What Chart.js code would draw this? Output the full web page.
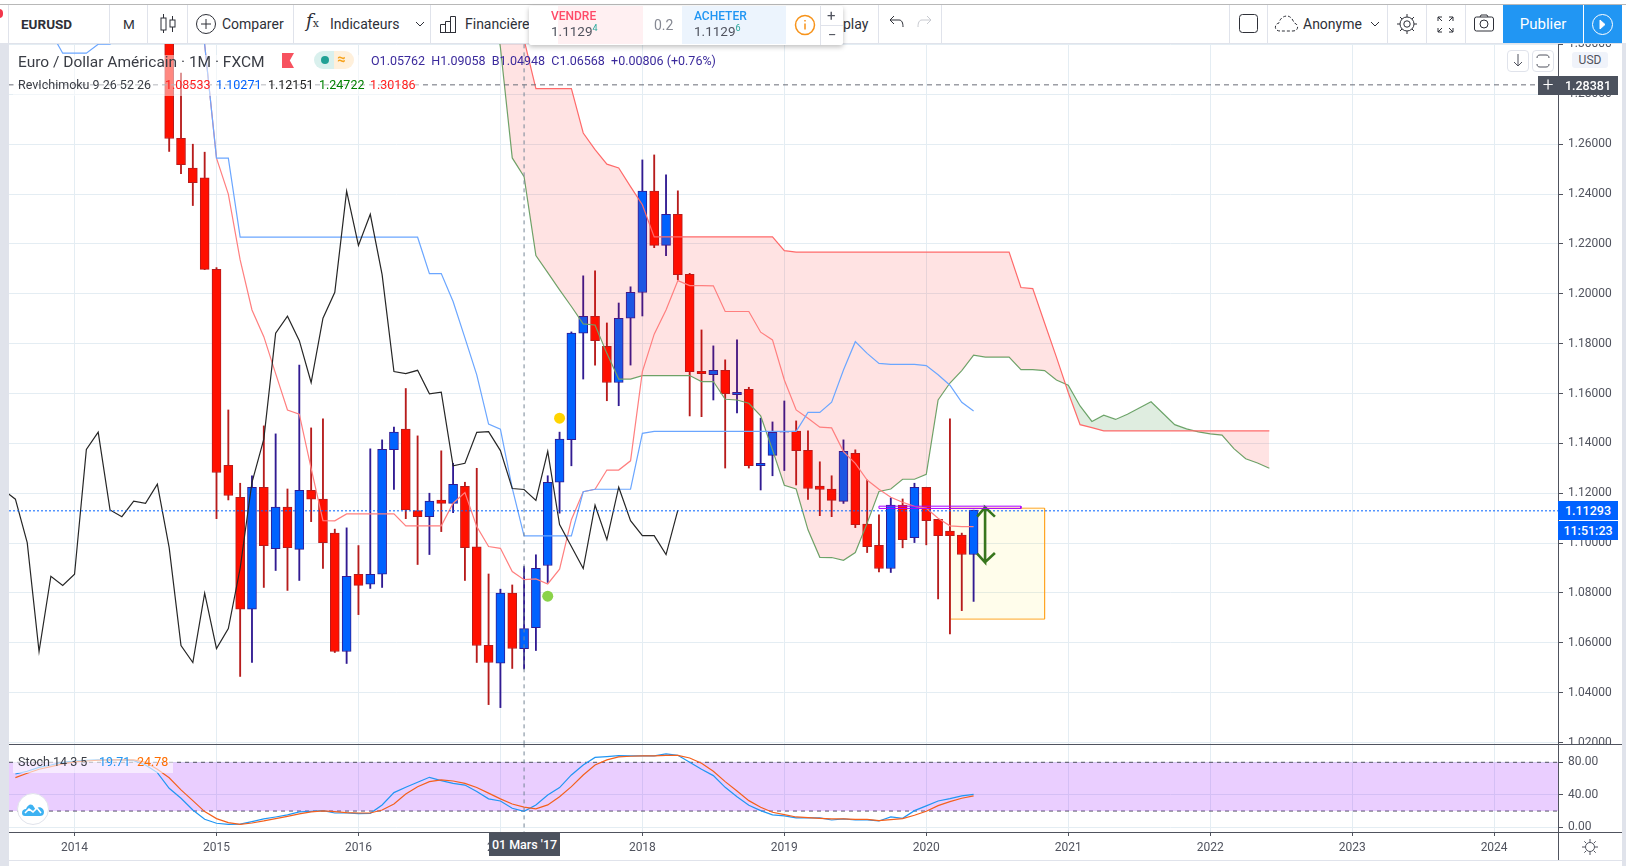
<!DOCTYPE html>
<html lang="fr">
<head>
<meta charset="UTF-8">
<title>EURUSD 1M</title>
<script src="https://cdn.jsdelivr.net/npm/chart.js"></script>
<style>
  html, body { margin: 0; padding: 0; background: #fff; overflow: hidden; }
  body { width: 1626px; height: 866px; position: relative; font-family: Roboto, sans-serif; color: #333; }
  .abs { position: absolute; white-space: nowrap; }
  canvas { position: absolute; display: block; }
  .sep { position: absolute; background: #e0e3eb; width: 1px; top: 5px; height: 38px; }
  .tool { position: absolute; top: 15px; font-size: 14px; line-height: 18px; color: #2e3038; white-space: nowrap; }
  .pricebox { position: absolute; left: 1558px; width: 60px; color: #fff; font-size: 12.5px; font-weight: 500; text-align: center; }
  svg { position: absolute; overflow: visible; fill: none; stroke: #2e3038; stroke-width: 1; }
</style>
</head>
<body>
<!-- page frame -->
<div class="abs" style="left:0;top:44px;width:9px;height:822px;background:#e0e3eb"></div>
<div class="abs" style="left:1622px;top:44px;width:4px;height:822px;background:#e0e3eb"></div>

<canvas id="mainChart" width="1609" height="700" style="left:9px;top:44px"></canvas>
<canvas id="stochChart" width="1609" height="116" style="left:9px;top:744px"></canvas>

<!-- pane lines -->
<div class="abs" style="left:9px;top:744px;width:1613px;height:1px;background:#50535e"></div>
<div class="abs" style="left:9px;top:832px;width:1613px;height:1px;background:#50535e"></div>
<div class="abs" style="left:1558px;top:44px;width:1px;height:816px;background:#50535e"></div>
<div class="abs" style="left:9px;top:860px;width:1613px;height:1px;background:#e0e3eb"></div>

<!-- toolbar -->
<div class="abs" style="left:0;top:0;width:1626px;height:44px;background:#fff"></div>
<div class="abs" style="left:0;top:4px;width:1626px;height:1px;background:#b8b8b8"></div>
<div class="abs" style="left:0;top:43px;width:1626px;height:1px;background:#e0e3eb"></div>
<div class="abs" style="left:-5px;top:9px;width:8px;height:9px;border-radius:5px;background:#f2364b"></div>
<div class="sep" style="left:8px"></div><div class="sep" style="left:109px"></div><div class="sep" style="left:147px"></div>
<div class="sep" style="left:187px"></div><div class="sep" style="left:293px"></div><div class="sep" style="left:430px"></div>
<div class="sep" style="left:878px"></div><div class="sep" style="left:941px"></div><div class="sep" style="left:1229px"></div>
<div class="sep" style="left:1267px"></div><div class="sep" style="left:1387px"></div><div class="sep" style="left:1426px"></div><div class="sep" style="left:1465px"></div>
<div class="tool" style="left:21px;font-weight:700;font-size:13.5px">EURUSD</div>
<div class="tool" style="left:123px;font-size:13.5px">M</div>
<svg style="left:160px;top:13px" width="16" height="22"><path d="M3.5 1v19M12.5 3v16"/><rect x="1" y="5" width="5" height="12" fill="#fff"/><rect x="10" y="7" width="5" height="7" fill="#fff"/></svg>
<svg style="left:196px;top:14px" width="20" height="20"><circle cx="10" cy="10" r="9.5"/><path d="M10 5v10M5 10h10"/></svg>
<div class="tool" style="left:222px">Comparer</div>
<div class="tool" style="left:306px;top:12px;font-family:'DejaVu Serif',serif;font-style:italic;font-size:18px">f<span style="font-size:11px;font-style:normal">x</span></div>
<div class="tool" style="left:330px">Indicateurs</div>
<svg style="left:415px;top:21px" width="10" height="6"><path d="M1 1l4 4 4-4"/></svg>
<svg style="left:440px;top:15px" width="16" height="18"><path d="M.5 17.5v-8h5v8M5.5 17.5v-11h5v11M10.5 17.5v-16h5v16M0 17.5h16"/></svg>
<div class="tool" style="left:465px">Financières</div>
<div class="tool" style="left:843px">play</div>
<svg style="left:889px;top:15px" width="16" height="14"><path d="M5 1L1 5l4 4M1 5h9c3 0 4 3 4 7"/></svg>
<svg style="left:916px;top:15px;stroke:#c8cad0" width="16" height="14"><path d="M11 1l4 4-4 4M15 5H6C3 5 2 8 2 12"/></svg>
<svg style="left:1239px;top:14px" width="19" height="19"><rect x=".5" y=".5" width="18" height="18" rx="3"/></svg>
<svg style="left:1275px;top:15px;stroke-dasharray:3 2" width="24" height="17"><path d="M5 16C-1 16 -1 9 4 8 5 3 9 1 12 1s6 3 7 7c5 1 5 8-1 8z"/></svg>
<div class="tool" style="left:1303px">Anonyme</div>
<svg style="left:1370px;top:21px" width="10" height="6"><path d="M1 1l4 4 4-4"/></svg>
<svg style="left:1397px;top:14px" width="20" height="20"><circle cx="10" cy="10" r="3.2"/><circle cx="10" cy="10" r="7"/><path d="M10 0v3M10 17v3M0 10h3M17 10h3M3 3l2 2M15 15l2 2M3 17l2-2M15 5l2-2"/></svg>
<svg style="left:1437px;top:16px" width="17" height="17"><path d="M1 5V1h4M1 1l4 4M12 1h4v4M16 1l-4 4M1 12v4h4M1 16l4-4M16 12v4h-4M16 16l-4-4"/></svg>
<svg style="left:1474px;top:14px" width="20" height="18"><rect x=".5" y="3" width="19" height="14" rx="2"/><circle cx="10" cy="10" r="4"/><path d="M6 3l1-2h6l1 2"/></svg>
<div class="abs" style="left:1503px;top:5px;width:80px;height:38px;background:#2196f3;color:#fff;font-size:15px;line-height:38px;text-align:center">Publier</div>
<div class="abs" style="left:1583px;top:5px;width:39px;height:38px;background:#2196f3;border-left:1px solid #fff;box-sizing:border-box"></div>
<svg style="left:1592px;top:14px;stroke:#fff" width="21" height="21"><circle cx="10.5" cy="10.5" r="10"/><path d="M8 6l5 4.5-5 4.5z" fill="#fff"/></svg>

<!-- floating trade panel -->
<div class="abs" style="left:529px;top:6px;width:314px;height:39px;background:#fff;box-shadow:0 2px 5px rgba(0,0,0,.25);border-radius:2px"></div>
<div class="abs" style="left:558px;top:6px;width:85px;height:38px;background:#fff0f2"></div>
<div class="abs" style="left:682px;top:6px;width:104px;height:38px;background:#ecf4fd"></div>
<div class="abs" style="left:551px;top:9px;font-size:12px;color:#ff4a68;font-weight:500">VENDRE</div>
<div class="abs" style="left:551px;top:23px;font-size:13.5px;color:#50535e">1.1129<sup style="font-size:9px;color:#26a69a;line-height:0">4</sup></div>
<div class="abs" style="left:654px;top:17px;font-size:14px;color:#868993">0.2</div>
<div class="abs" style="left:694px;top:9px;font-size:12px;color:#2196f3;font-weight:500">ACHETER</div>
<div class="abs" style="left:694px;top:23px;font-size:13.5px;color:#50535e">1.1129<sup style="font-size:9px;color:#26a69a;line-height:0">6</sup></div>
<svg style="left:795px;top:15px;stroke:#f7931a;stroke-width:1.5" width="20" height="20"><circle cx="10" cy="10" r="9.5"/><path d="M10 8.5v6M10 5v1.6"/></svg>
<div class="abs" style="left:820px;top:6px;width:1px;height:39px;background:#e0e3eb"></div>
<div class="abs" style="left:820px;top:25px;width:23px;height:1px;background:#e0e3eb"></div>
<div class="abs" style="left:827px;top:7px;font-size:15px;color:#50535e">+</div>
<div class="abs" style="left:828px;top:26px;font-size:15px;color:#50535e">−</div>

<!-- legends -->
<div class="abs" style="left:13px;top:55px;width:407px;height:41px;background:rgba(255,255,255,.5)"></div>
<div class="abs" style="left:18px;top:53px;font-size:15.5px;line-height:18px;color:#3a3d45">Euro / Dollar Américain · 1M · FXCM</div>
<div class="abs" style="left:282px;top:53px;width:12px;height:15px;background:#f7525f;clip-path:polygon(0 0,100% 0,65% 50%,100% 100%,0 100%)"></div>
<div class="abs" style="left:314px;top:51px;width:40px;height:18px;border-radius:9px;background:linear-gradient(90deg,#d9f0ed 50%,#fff0db 50%)"></div>
<div class="abs" style="left:321px;top:56px;width:8px;height:8px;border-radius:4px;background:#22a095"></div>
<div class="abs" style="left:337px;top:50px;font-size:15px;line-height:18px;color:#f7a21b;font-weight:700">≈</div>
<div class="abs" style="left:371px;top:53px;font-size:12.5px;line-height:16px;color:#3b2a9c">O1.05762&nbsp; H1.09058&nbsp; B1.04948&nbsp; C1.06568&nbsp; +0.00806 (+0.76%)</div>
<div class="abs" style="left:18px;top:77px;font-size:12.5px;line-height:16px;color:#3a3d45">RevIchimoku 9 26 52 26</div>
<div class="abs" style="left:165px;top:77px;font-size:12.5px;line-height:16px;color:#ff2020">1.08533</div>
<div class="abs" style="left:216px;top:77px;font-size:12.5px;line-height:16px;color:#0062ff">1.10271</div>
<div class="abs" style="left:268px;top:77px;font-size:12.5px;line-height:16px;color:#222">1.12151</div>
<div class="abs" style="left:319px;top:77px;font-size:12.5px;line-height:16px;color:#008000">1.24722</div>
<div class="abs" style="left:370px;top:77px;font-size:12.5px;line-height:16px;color:#ff2020">1.30186</div>

<div class="abs" style="left:13px;top:757px;width:160px;height:16px;background:rgba(255,255,255,.6)"></div>
<div class="abs" style="left:18px;top:754px;font-size:12.5px;line-height:16px;color:#3a3d45">Stoch 14 3 5</div>
<div class="abs" style="left:99px;top:754px;font-size:12.5px;line-height:16px;color:#2196f3">19.71</div>
<div class="abs" style="left:137px;top:754px;font-size:12.5px;line-height:16px;color:#ff6d00">24.78</div>
<div class="abs" style="left:17px;top:793px;width:32px;height:32px;border-radius:16px;background:#fff;border:1px solid #e0e3eb;box-sizing:border-box"></div>
<svg style="left:22px;top:802px;stroke:none" width="22" height="14"><path d="M0 11c0-3 2-4 4-4 2-5 6-6 8-2 1 2 2 3 3 1 2-2 7 0 7 4 0 3-2 4-4 4H3c-2 0-3-1-3-3z" fill="#3db2f2"/><path d="M3 11l4-4 4 3 4-4 4 5" stroke="#fff" stroke-width="1.6"/></svg>

<!-- right side -->
<div class="abs" style="left:1507px;top:50px;width:20px;height:20px;border:1px solid #e0e3eb;border-radius:4px;background:#fff"></div>
<svg style="left:1513px;top:54px;stroke:#50535e" width="10" height="13"><path d="M5 0v12M1 8l4 4 4-4"/></svg>
<div class="abs" style="left:1532px;top:50px;width:20px;height:20px;border:1px solid #e0e3eb;border-radius:4px;background:#fff"></div>
<svg style="left:1537px;top:55px;stroke:#50535e" width="12" height="12"><path d="M0 3c0-2 1-3 3-3h6c2 0 3 1 3 3M0 9c0 2 1 3 3 3h6c2 0 3-1 3-3"/></svg>
<div class="abs" style="left:1572px;top:52px;width:36px;height:16px;line-height:16px;background:#f0f3fa;border-radius:3px;text-align:center;font-size:12px;color:#50535e">USD</div>
<div class="abs" style="left:1538px;top:76px;width:20px;height:19px;background:#4c525e;color:#fff;font-size:19px;line-height:18px;text-align:center;font-weight:300">+</div>
<div class="pricebox" style="top:76px;height:19px;line-height:19px;background:#4c525e">1.28381</div>
<div class="pricebox" style="top:501px;height:19px;line-height:19px;background:#0062ff">1.11293</div>
<div class="pricebox" style="top:521px;height:19px;line-height:19px;background:#0062ff">11:51:23</div>
<div class="abs" style="left:489px;top:833px;width:71px;height:23px;line-height:23px;background:#4c525e;color:#fff;font-size:12.5px;font-weight:500;text-align:center">01 Mars '17</div>
<svg style="left:1582px;top:839px;stroke:#50535e" width="16" height="16"><circle cx="8" cy="8" r="4.5"/><path d="M8 0v3M8 13v3M0 8h3M13 8h3M2.3 2.3l2 2M11.7 11.7l2 2M2.3 13.7l2-2M11.7 4.3l2-2"/></svg>

<script>
// x axis: months counted from Jan 2014
const xMin = -5.54, xMax = 125.4;
const tickYears = [2014, 2015, 2016, 2017, 2018, 2019, 2020, 2021, 2022, 2023, 2024];
const priceTicks = [1.02, 1.04, 1.06, 1.08, 1.10, 1.12, 1.14, 1.16, 1.18, 1.20, 1.22, 1.24, 1.26, 1.28, 1.30];
const stochTicks = [0, 40, 80];

// candles, first bar Sep 2014
const firstBar = 8;
const opens = [1.3132,1.2624,1.2504,1.2465,1.2098,1.1312,1.1184,1.0735,1.1224,1.0978,1.1144,1.0975,1.1212,1.1176,1.104,1.0565,1.0875,1.0835,1.0875,1.1375,1.1457,1.113,1.1106,1.1172,1.1159,1.1228,1.0985,1.059,1.0518,1.0799,1.0576,1.0661,1.091,1.1244,1.1415,1.1842,1.191,1.1789,1.1644,1.1902,1.2005,1.2412,1.2194,1.2319,1.2078,1.1689,1.1676,1.1693,1.1595,1.1617,1.131,1.1352,1.1445,1.1449,1.1372,1.1229,1.1217,1.1167,1.136,1.1076,1.0991,1.0898,1.1152,1.1022,1.1224,1.1095,1.1048,1.1032,1.0954];
const closes = [1.2623,1.2518,1.2446,1.2098,1.1283,1.1191,1.0735,1.1224,1.099,1.1144,1.0982,1.1212,1.1176,1.1002,1.0565,1.0867,1.083,1.0875,1.1376,1.1445,1.1133,1.1106,1.1168,1.1159,1.1236,1.0982,1.0589,1.0521,1.0799,1.0577,1.0657,1.0899,1.1244,1.1417,1.1842,1.191,1.1812,1.1644,1.1902,1.2006,1.2412,1.2194,1.2319,1.2077,1.1688,1.168,1.1693,1.1599,1.1605,1.131,1.132,1.1444,1.1447,1.1371,1.1219,1.1215,1.1171,1.1368,1.1074,1.0986,1.0898,1.1152,1.1014,1.1224,1.109,1.103,1.103,1.0954,1.1132];
const highs = [1.3147,1.2885,1.26,1.2568,1.2105,1.1534,1.124,1.127,1.147,1.1438,1.1217,1.1714,1.1462,1.1498,1.1056,1.1061,1.099,1.1378,1.1414,1.1465,1.162,1.143,1.12,1.137,1.132,1.1244,1.13,1.0876,1.0815,1.0832,1.0906,1.0953,1.127,1.1445,1.1847,1.2072,1.2092,1.1883,1.1963,1.2028,1.2537,1.2557,1.2477,1.2413,1.2082,1.1855,1.1791,1.1735,1.1815,1.1625,1.1501,1.1486,1.157,1.149,1.145,1.1326,1.127,1.1414,1.1374,1.1253,1.1113,1.1181,1.1177,1.124,1.1224,1.1095,1.1498,1.104,1.1132];
const lows = [1.2571,1.2482,1.2354,1.2097,1.1098,1.1173,1.0465,1.0521,1.0822,1.089,1.081,1.085,1.1086,1.0898,1.0561,1.0517,1.0713,1.0818,1.0822,1.1215,1.1098,1.0914,1.0954,1.1046,1.1122,1.085,1.0521,1.0352,1.034,1.0497,1.0495,1.0569,1.0842,1.112,1.131,1.1658,1.1714,1.1571,1.1551,1.1714,1.1911,1.2185,1.2153,1.2056,1.151,1.1507,1.1574,1.1301,1.1522,1.1301,1.1213,1.127,1.1291,1.1233,1.1175,1.111,1.1106,1.1159,1.1062,1.0962,1.0884,1.0882,1.0981,1.1002,1.0993,1.0776,1.0636,1.0729,1.0766];

// ichimoku
const tenkanStart = 10;
const tenkan = [1.33,1.30,1.2544,1.24,1.2136,1.1935,1.1828,1.168,1.1534,1.1517,1.13,1.109,1.1089,1.1117,1.1117,1.1117,1.1117,1.1117,1.1069,1.1069,1.1069,1.1069,1.116,1.1203,1.1066,1.0986,1.0979,1.0886,1.0853,1.0856,1.0836,1.0895,1.1094,1.1206,1.1216,1.1293,1.1293,1.133,1.1688,1.1838,1.1935,1.2053,1.2033,1.2033,1.2032,1.1929,1.1929,1.1929,1.1846,1.1815,1.1654,1.1534,1.1501,1.1465,1.1462,1.1367,1.132,1.1253,1.1216,1.1184,1.1164,1.1147,1.114,1.11,1.1069,1.1066,1.1066];
const kijunStart = -2;
const kijun = [1.305,1.2965,1.2965,1.2965,1.3001,1.3001,1.31,1.32,1.33,1.33,1.33,1.33,1.325,1.30,1.2544,1.2544,
  1.2227,1.2227,1.2227,1.2227,1.2227,1.2227,1.2227,1.2227,1.2227,1.2227,1.2227,1.2227,1.2227,1.2227,1.2227,1.2227,
  1.2081,1.2081,1.1969,1.1823,1.1675,1.1477,1.1457,1.122,1.1029,1.1029,1.1029,1.1029,1.1029,1.1206,1.1216,1.1216,1.1216,1.1216,1.144,
  1.1448,1.1448,1.1448,1.1448,1.1448,1.1448,1.1448,1.1448,1.1448,1.1448,1.1448,1.1448,1.1448,
  1.1524,1.1524,1.1565,1.1694,1.1808,1.1761,1.1721,1.1717,1.1717,1.1717,1.1712,1.1675,1.1633,1.1565,1.153];
const chikouStart = -6;
const chikou = [1.1212,1.1176,1.1002,1.0565,1.0867,1.083,1.0875,1.1376,1.1445,1.1133,1.1106,1.1168,1.1159,1.1236,1.0982,1.0589,1.0521,1.0799,1.0577,1.0657,1.0899,1.1244,1.1417,1.1842,1.191,1.1812,1.1644,1.1902,1.2006,1.2412,1.2194,1.2319,1.2077,1.1688,1.168,1.1693,1.1599,1.1605,1.131,1.132,1.1444,1.1447,1.1371,1.1219,1.1215,1.1171,1.1368,1.1074,1.0986,1.0898,1.1152,1.1014,1.1224,1.109,1.103,1.103,1.0954,1.1132];
const spanStart = 34;
const spanA = [1.36,1.33,1.2988,1.2545,1.247,1.2153,1.2085,1.2016,1.1949,1.1879,1.1875,1.1761,1.1658,1.1658,1.1672,1.1672,1.1672,1.1672,1.1672,1.1648,1.1648,1.1577,1.1574,1.1561,1.151,1.1374,1.1232,1.1217,1.1053,1.0943,1.0942,1.0931,1.0962,1.108,1.1207,1.1217,1.1256,1.1256,1.1276,1.1574,1.1642,1.1692,1.1754,1.1746,1.1746,1.1746,1.1696,1.1696,1.1692,1.1654,1.1633,1.155,1.1488,1.1513,1.1496,1.1517,1.1542,1.1567,1.1521,1.1475,1.1458,1.1446,1.1438,1.1433,1.1379,1.1338,1.1321,1.13];
const spanB = [1.335,1.335,1.33,1.32,1.3019,1.2823,1.2823,1.2823,1.2823,1.2645,1.2578,1.252,1.2505,1.243,1.2357,1.2228,1.2228,1.2228,1.2228,1.2228,1.2228,1.2228,1.2228,1.2228,1.2228,1.2228,1.2173,1.2167,1.2167,1.2167,1.2167,1.2167,1.2167,1.2167,1.2167,1.2167,1.2167,1.2167,1.2167,1.2167,1.2167,1.2167,1.2167,1.2167,1.2167,1.2167,1.2025,1.2021,1.1883,1.1746,1.1604,1.1475,1.1463,1.145,1.145,1.145,1.145,1.145,1.145,1.145,1.145,1.145,1.145,1.145,1.145,1.145,1.145,1.145];

// signals and drawings on the chart
const lastPrice = 1.11293, crossPrice = 1.28381, crossMonth = 38;
const yellowDot = [{x: 41, y: 1.1501}], greenDot = [{x: 40, y: 1.0787}];
const purpleBox = [[68, 1.1148], [80, 1.1148], [80, 1.1139], [68, 1.1139], [68, 1.1148]];
const orangeBox = [[74, 1.114], [82, 1.114], [82, 1.0695], [74, 1.0695], [74, 1.114]];
const orangeTop = [[74, 1.114], [82, 1.114]], orangeBottom = 1.0695;
const arrowPath = [[76.3, 1.1106], [76.97, 1.1143], [77.8, 1.1106], [76.97, 1.1143], [76.97, 1.0923], [76.3, 1.0958], [76.97, 1.0923], [77.8, 1.096]];

// stochastic, first value Sep 2013
const stochStart = -5;
const stochK = [65.6,69,73.8,76.7,80,81.6,82.5,82.9,82.9,82.9,82,76.7,67.3,48,35.7,21.3,9.8,5,3.7,4,7,10.3,12.7,15.2,18.9,19.7,20.5,17.6,17.6,16.8,17.2,27.5,42.7,49.2,55.4,61.5,57.4,54,52,44,35,32.4,23.4,19.71,27.5,39.8,48.8,64.4,76.7,86,87,88.2,87.8,87.8,87.8,90.3,88.6,80,71.4,63.6,49.2,37.7,27,20.5,15.2,14,11.5,11.5,11.5,9,10.3,9,9,7.8,12.7,11,20.5,26.3,32.4,35.3,38.6,40.6];
const stochD = [61.1,66.5,71.4,74.7,78,80.4,81.6,82.5,82.9,82.9,82.9,80,71.4,61,46,32.8,19.3,10.7,5.7,3.7,5.3,7.8,10.7,13.5,16.4,18.9,20.1,19.3,18,17.6,17.6,21.3,28.7,41,50,56.2,58.3,57,54,49,42,35,28.7,24.78,22.6,27.5,37.7,50,64.4,76.7,82.9,86.6,87.4,87.8,87.8,88.6,88.6,85.3,78.8,69,56.2,44.7,32.8,24.6,18.5,15.6,12.7,11.9,11,10.3,10.3,9.8,9.8,8.2,9.4,10.7,14.8,19.7,26.7,31.6,35.7,38.6];
const stochUpper = 80, stochLower = 20;

const toPoints = (start, vals) => vals.map((v, k) => ({x: start + k, y: v}));
const pairPoints = pairs => pairs.map(p => ({x: p[0], y: p[1]}));
const flatLine = y => [{x: xMin, y: y}, {x: xMax, y: y}];
const isUp = k => closes[k] >= opens[k];

const gridColor = '#e4edf3', textColor = '#50535e';
const yearValues = tickYears.map(y => (y - 2014) * 12);

function lineSet(data, color, extra) {
  return Object.assign({type: 'line', data: data, borderColor: color, borderWidth: 1.2, pointRadius: 0, tension: 0, fill: false, order: 3}, extra);
}

// no room is kept for labels that stick out, the panes have fixed sizes
function noPadding(s) {
  s.paddingTop = s.paddingBottom = s.paddingLeft = s.paddingRight = 0;
}

const xAxis = {
  type: 'linear', min: xMin, max: xMax, offset: false,
  afterBuildTicks: s => { s.ticks = yearValues.map(v => ({value: v})); },
  border: {display: false},
  grid: {color: gridColor, drawTicks: false, offset: false}
};
const chartBase = {
  responsive: false, animation: false, events: [],
  layout: {padding: 0, autoPadding: false},
  plugins: {legend: {display: false}, tooltip: {enabled: false}, title: {display: false}}
};
const yTicks = (list, digits) => ({
  afterBuildTicks: s => { s.ticks = list.map(v => ({value: v})); },
  afterFit: s => { s.width = 60; noPadding(s); },
  position: 'right',
  border: {display: false},
  grid: {color: gridColor, tickColor: textColor, tickLength: 5},
  ticks: {color: textColor, padding: 5, font: {family: 'Roboto', size: 12}, autoSkip: false,
    callback: v => Number(v).toFixed(digits)}
});

new Chart(document.getElementById('mainChart').getContext('2d'), {
  type: 'bar',
  data: {datasets: [
    // wicks and bodies sit under the indicator lines
    {data: lows.map((l, k) => ({x: firstBar + k, y: [l, highs[k]]})), barThickness: 1.2, grouped: false, order: 20,
     backgroundColor: lows.map((l, k) => isUp(k) ? '#311b92' : '#b71c1c')},
    {data: opens.map((o, k) => ({x: firstBar + k, y: [o, closes[k]]})), barThickness: 9, grouped: false, order: 19,
     borderWidth: 1, borderSkipped: false,
     backgroundColor: opens.map((o, k) => isUp(k) ? '#0062ff' : '#ff1000'),
     borderColor: opens.map((o, k) => isUp(k) ? '#311b92' : '#b71c1c')},
    lineSet(flatLine(crossPrice), '#6a6d78', {borderDash: [5, 4], borderWidth: 1, order: 6}),
    lineSet(flatLine(lastPrice), '#0062ff', {borderDash: [2, 2], borderWidth: 1, order: 2}),
    lineSet([{x: crossMonth, y: 1}, {x: crossMonth, y: 1.4}], '#758696', {borderDash: [4, 4], borderWidth: 1, order: 2}),
    lineSet(toPoints(spanStart, spanA), '#6ea86e', {order: 8}),
    lineSet(toPoints(spanStart, spanB), '#ff6a6a', {order: 7,
      fill: {target: 5, above: 'rgba(255,0,0,0.11)', below: 'rgba(56,142,60,0.16)'}}),
    lineSet(toPoints(kijunStart, kijun), '#6ba6ff', {order: 5}),
    lineSet(toPoints(tenkanStart, tenkan), '#ff7f7f', {order: 5}),
    lineSet(toPoints(chikouStart, chikou), '#262626', {order: 4}),
    lineSet(pairPoints(orangeTop), 'rgba(0,0,0,0)', {order: 22, borderWidth: 0,
      fill: {target: {value: orangeBottom}, above: 'rgba(255,235,59,0.1)'}}),
    lineSet(pairPoints(orangeBox), '#ffa726', {borderWidth: 1, order: 21}),
    lineSet(pairPoints(purpleBox), '#aa00ff', {order: 1, borderWidth: 1}),
    lineSet(pairPoints(arrowPath), '#38761d', {order: 1, borderWidth: 2.6}),
    {type: 'scatter', data: yellowDot, pointRadius: 5.5, backgroundColor: '#ffd400', borderWidth: 0, order: 1},
    {type: 'scatter', data: greenDot, pointRadius: 5.5, backgroundColor: '#8bd34a', borderWidth: 0, order: 1}
  ]},
  options: Object.assign({}, chartBase, {
    scales: {
      x: Object.assign({}, xAxis, {ticks: {display: false}, afterFit: s => { s.height = 0; noPadding(s); }}),
      y: Object.assign(yTicks(priceTicks, 5), {min: 1.0194, max: 1.3002})
    }
  })
});

new Chart(document.getElementById('stochChart').getContext('2d'), {
  type: 'line',
  data: {datasets: [
    lineSet(flatLine(stochUpper), '#50535e', {borderDash: [4, 4], borderWidth: 1, order: 6,
      fill: {target: 1, above: 'rgba(148,10,255,0.2)'}}),
    lineSet(flatLine(stochLower), '#50535e', {borderDash: [4, 4], borderWidth: 1, order: 6}),
    lineSet([{x: crossMonth, y: -10}, {x: crossMonth, y: 110}], '#758696', {borderDash: [4, 4], borderWidth: 1, order: 1}),
    lineSet(toPoints(stochStart, stochD), '#f4601c', {order: 2}),
    lineSet(toPoints(stochStart, stochK), '#2196f3', {order: 3})
  ]},
  options: Object.assign({}, chartBase, {
    scales: {
      x: Object.assign({}, xAxis, {
        grid: {color: gridColor, tickColor: textColor, tickLength: 4, offset: false},
        afterFit: s => { s.height = 28; noPadding(s); },
        ticks: {color: textColor, padding: 5, autoSkip: false, maxRotation: 0, font: {family: 'Roboto', size: 12},
          callback: v => String(2014 + v / 12)}
      }),
      y: Object.assign(yTicks(stochTicks, 2), {min: -5.8, max: 102.5})
    }
  })
});
</script>
</body>
</html>
